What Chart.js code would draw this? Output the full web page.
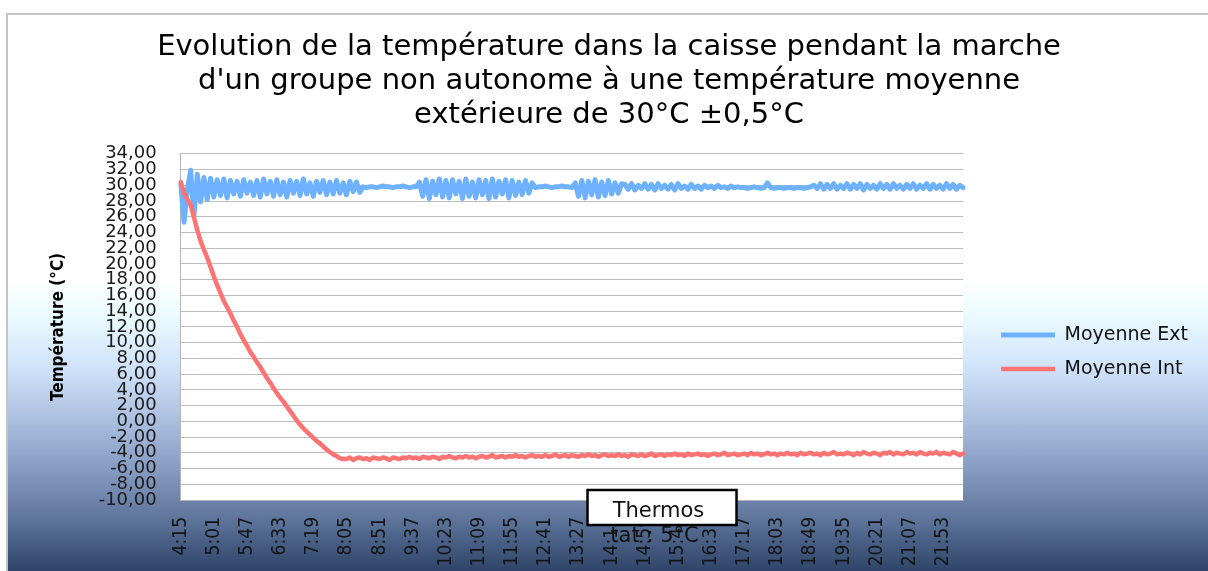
<!DOCTYPE html>
<html>
<head>
<meta charset="utf-8">
<script src="https://cdn.jsdelivr.net/npm/chart.js@4.4.1/dist/chart.umd.min.js"></script>
<style>
  html, body { margin: 0; padding: 0; background: #fff; overflow: hidden; }
  #frame {
    position: absolute; left: 6px; top: 13px; width: 1202px; height: 558px;
    border-left: 2px solid #c4c4c4; border-top: 2px solid #c4c4c4;
    background: linear-gradient(to bottom, #fff 0%, #fff 47%, #eafaff 54%, #cde0f8 64%, #a9bddd 73%, #8499c0 82%, #5a7198 91%, #2c4266 100%);
  }
  canvas { display: block; }
</style>
</head>
<body>
<div id="frame"><canvas id="temp-chart" width="1200" height="556"></canvas></div>
<script>
// libellés de l'axe horizontal (un tous les 10 relevés)
const tickLabels = ['4:15', '5:01', '5:47', '6:33', '7:19', '8:05', '8:51', '9:37', '10:23', '11:09', '11:55', '12:41',
    '13:27', '14:13', '14:59', '15:45', '16:31', '17:17', '18:03', '18:49', '19:35', '20:21', '21:07', '21:53'];
const pointsPerTick = 10;

const yTickLabels = ['-10,00', '-8,00', '-6,00', '-4,00', '-2,00', '0,00', '2,00', '4,00', '6,00', '8,00', '10,00', '12,00',
    '14,00', '16,00', '18,00', '20,00', '22,00', '24,00', '26,00', '28,00', '30,00', '32,00', '34,00'];

const titleLines = ['Evolution de la température dans la caisse pendant la marche',
    "d'un groupe non autonome à une température moyenne",
    'extérieure de 30°C ±0,5°C'];
const yTitle = 'Température (°C)';
const seriesNames = ['Moyenne Ext', 'Moyenne Int'];

const moyenneExt = [
    30.3, 25.3, 29.4, 31.9, 26.1, 31.4, 27.9, 31.0, 28.2,
    30.9, 28.5, 30.7, 28.7, 30.8, 28.4, 30.6, 28.9, 30.5, 28.6,
    30.7, 29.0, 30.4, 28.7, 30.6, 28.5, 30.8, 28.9, 30.5, 28.6,
    30.7, 28.8, 30.4, 28.5, 30.6, 29.0, 30.5, 28.7, 30.8, 28.9,
    30.3, 28.6, 30.5, 29.1, 30.6, 28.8, 30.4, 28.9, 30.6, 29.0,
    30.3, 28.8, 30.5, 29.2, 30.4, 29.1,
    29.8, 29.7, 29.8, 29.8, 29.7, 29.8, 29.9, 29.8, 29.8, 29.7, 29.8, 29.8, 29.9, 29.8, 29.7, 29.8, 29.8,
    30.4, 28.6, 30.7, 28.3, 30.5, 28.8, 30.8, 28.5, 30.6, 28.4,
    30.7, 28.9, 30.5, 28.3, 30.8, 28.6, 30.4, 28.4, 30.7, 28.8,
    30.6, 28.3, 30.8, 28.5, 30.5, 28.9, 30.7, 28.4, 30.6, 28.7,
    30.4, 28.8, 30.6, 29.0, 30.3,
    29.7, 29.8, 29.8, 29.9, 29.8, 29.7, 29.8, 29.8, 29.9, 29.8, 29.8, 29.7,
    30.3, 28.6, 30.6, 28.4, 30.5, 28.8, 30.7, 28.5, 30.4, 28.7, 30.6, 28.9, 30.3, 29.0, 30.2,
    30.1, 29.5, 30.2, 29.4, 30.0, 29.6, 30.2, 29.5, 30.1, 29.4,
    30.2, 29.6, 30.0, 29.5, 30.1, 29.4, 30.2, 29.6, 29.9, 29.5,
    30.1, 29.6, 29.9, 29.5, 30.0, 29.7, 29.9, 29.6, 30.0, 29.7,
    29.8, 29.6, 29.9, 29.7, 29.8, 29.7,
    29.7, 29.6, 29.7, 29.8, 29.7, 29.6, 29.7, 30.3, 29.7, 29.6, 29.7, 29.7, 29.6, 29.7, 29.7, 29.6, 29.7, 29.7, 29.6, 29.7, 29.8,
    30.0, 29.6, 30.2, 29.5, 30.1, 29.6, 30.2, 29.5, 30.0, 29.6,
    30.2, 29.5, 30.1, 29.6, 30.2, 29.4, 30.1, 29.6, 30.0, 29.5,
    30.2, 29.6, 30.1, 29.5, 30.2, 29.6, 30.0, 29.5, 30.1, 29.6,
    30.2, 29.5, 30.0, 29.6, 30.2, 29.5, 30.1, 29.6, 30.0, 29.5,
    30.2, 29.6, 30.1, 29.5, 30.0, 29.7
];

const moyenneInt = [
    30.4, 29.0, 28.2, 27.5, 25.9, 24.3, 22.9, 21.8, 20.8, 19.6,
    18.4, 17.3, 16.3, 15.3, 14.5, 13.7, 12.8, 12.0, 11.1, 10.3,
    9.6, 8.8, 8.2, 7.5, 6.9, 6.2, 5.5, 4.9, 4.2, 3.6,
    3.0, 2.5, 1.9, 1.3, 0.7, 0.1, -0.4, -0.9, -1.3, -1.7,
    -2.1, -2.5, -2.8, -3.2, -3.6, -3.9, -4.2, -4.4, -4.7, -4.8,
    -4.8, -4.6, -4.9, -4.7, -4.6, -4.8, -4.7, -4.9, -4.6, -4.7,
    -4.8, -4.6, -4.7, -4.9, -4.6, -4.7, -4.8, -4.6, -4.7, -4.5,
    -4.7, -4.6, -4.8, -4.5, -4.6, -4.7, -4.5, -4.6, -4.8, -4.5,
    -4.6, -4.4, -4.6, -4.7, -4.5, -4.6, -4.4, -4.6, -4.5, -4.7,
    -4.5, -4.4, -4.6, -4.5, -4.3, -4.6, -4.5, -4.4, -4.6, -4.4,
    -4.5, -4.3, -4.5, -4.4, -4.6, -4.4, -4.3, -4.5, -4.4, -4.5,
    -4.3, -4.5, -4.4, -4.2, -4.5, -4.4, -4.3, -4.5, -4.3, -4.4,
    -4.5, -4.3, -4.4, -4.2, -4.4, -4.3, -4.5, -4.3, -4.2, -4.4,
    -4.3, -4.4, -4.2, -4.4, -4.3, -4.5, -4.2, -4.3, -4.4, -4.2,
    -4.4, -4.3, -4.1, -4.4, -4.3, -4.2, -4.4, -4.2, -4.3, -4.1,
    -4.3, -4.2, -4.4, -4.1, -4.3, -4.2, -4.1, -4.3, -4.2, -4.4,
    -4.2, -4.1, -4.3, -4.2, -4.0, -4.3, -4.2, -4.1, -4.3, -4.2,
    -4.1, -4.3, -4.0, -4.2, -4.1, -4.3, -4.2, -4.0, -4.2, -4.1,
    -4.3, -4.1, -4.2, -4.0, -4.2, -4.1, -4.3, -4.0, -4.2, -4.1,
    -4.0, -4.2, -4.1, -4.3, -4.0, -4.2, -4.1, -3.9, -4.2, -4.1,
    -4.2, -4.0, -4.1, -4.3, -4.0, -4.2, -3.9, -4.1, -4.2, -4.0,
    -4.1, -4.3, -4.0, -4.1, -3.9, -4.2, -4.0, -4.1, -4.2, -3.9,
    -4.1, -4.0, -4.2, -3.9, -4.1, -4.2, -4.0, -4.1, -3.9, -4.2,
    -4.0, -4.1, -4.2, -3.9, -4.1, -4.3, -4.1
];

// une étiquette tous les 10 points, vide sinon
const labels = moyenneExt.map((v, i) => i % pointsPerTick === 0 ? (tickLabels[i / pointsPerTick] || '') : '');

const narrowFont = "'Liberation Sans Narrow', 'DejaVu Sans Condensed', 'Liberation Sans', sans-serif";

// fond blanc de la zone de tracé
const plotBackground = {
    id: 'plotBackground',
    beforeDraw(chart) {
        const { ctx, chartArea } = chart;
        ctx.save();
        ctx.fillStyle = '#ffffff';
        ctx.fillRect(chartArea.left, chartArea.top, chartArea.right - chartArea.left, chartArea.bottom - chartArea.top);
        ctx.restore();
    }
};

// étiquettes verticales (lecture de bas en haut) + zone de texte "Thermostat"
const extras = {
    id: 'extras',
    afterDraw(chart) {
        const { ctx, chartArea, scales } = chart;
        const x = scales.x;
        ctx.save();
        ctx.fillStyle = '#141414';
        ctx.font = '19px ' + narrowFont;
        ctx.textAlign = 'right';
        ctx.textBaseline = 'middle';
        tickLabels.forEach((t, k) => {
            const px = x.getPixelForValue(k * pointsPerTick);
            ctx.save();
            ctx.translate(px, chartArea.bottom + 17);
            ctx.rotate(-Math.PI / 2);
            ctx.fillText(t, 0, 0);
            ctx.restore();
        });

        const bx = chartArea.left + 0.52 * (chartArea.right - chartArea.left);
        const by = chartArea.bottom - 10;
        ctx.fillStyle = '#ffffff';
        ctx.fillRect(bx, by, 149, 35);
        ctx.strokeStyle = '#000000';
        ctx.lineWidth = 2.5;
        ctx.strokeRect(bx, by, 149, 35);
        ctx.fillStyle = '#111111';
        ctx.font = "21px 'DejaVu Sans', sans-serif";
        ctx.textAlign = 'center';
        ctx.textBaseline = 'alphabetic';
        ctx.fillText('Thermos', bx + 71, by + 27);
        ctx.fillText('tat : 5°C', bx + 67, by + 52);
        ctx.restore();
    }
};

const ctx = document.getElementById('temp-chart').getContext('2d');
new Chart(ctx, {
    type: 'line',
    data: {
        labels: labels,
        datasets: [{
            label: seriesNames[0],
            data: moyenneExt,
            borderColor: '#6db1ff',
            backgroundColor: '#6db1ff',
            borderWidth: 5,
            borderJoinStyle: 'round',
            borderCapStyle: 'round',
            pointRadius: 0,
            order: 2
        }, {
            label: seriesNames[1],
            data: moyenneInt,
            borderColor: '#ff7373',
            backgroundColor: '#ff7373',
            borderWidth: 4.5,
            borderJoinStyle: 'round',
            borderCapStyle: 'round',
            pointRadius: 0,
            order: 1
        }]
    },
    options: {
        responsive: false,
        animation: false,
        devicePixelRatio: 1,
        layout: { padding: { left: 12, right: 10, top: 6, bottom: 71 } },
        plugins: {
            tooltip: { enabled: false },
            title: {
                display: true,
                text: titleLines,
                color: '#000',
                font: { family: "'DejaVu Sans', sans-serif", size: 29, weight: 'normal', lineHeight: 1.17 },
                padding: { top: 10, bottom: 21 }
            },
            legend: {
                position: 'right',
                fullSize: false,
                maxWidth: 260,
                title: { display: true, text: ' ', font: { size: 10, lineHeight: 1 }, padding: { top: 20, bottom: 20 } },
                labels: {
                    usePointStyle: true,
                    pointStyle: 'line',
                    pointStyleWidth: 54,
                    boxHeight: 5,
                    padding: 15,
                    color: '#111',
                    font: { family: "'DejaVu Sans', sans-serif", size: 19 },
                    sort: (a, b) => a.datasetIndex - b.datasetIndex
                }
            }
        },
        scales: {
            x: {
                type: 'category',
                grid: { display: false, drawTicks: false },
                border: { display: true, color: '#b4b4b4' },
                ticks: { display: false, padding: 0 }
            },
            y: {
                min: -10,
                max: 34,
                grid: { color: '#bdbdbd', drawTicks: false },
                border: { display: true, color: '#b4b4b4' },
                ticks: {
                    stepSize: 2,
                    autoSkip: false,
                    padding: 24,
                    color: '#1a1a1a',
                    font: { family: "'DejaVu Sans', sans-serif", size: 18 },
                    callback: (v, i) => yTickLabels[i]
                },
                title: {
                    display: true,
                    text: yTitle,
                    color: '#000',
                    font: { family: narrowFont, size: 17, weight: 'bold' },
                    padding: { top: 28, bottom: 0 }
                },
                afterFit: s => { s.width = 160.7; }
            },
            spacer: {
                type: 'linear',
                position: 'right',
                grid: { display: false },
                border: { display: false },
                ticks: { display: false },
                afterFit: s => { s.width = 23; }
            }
        }
    },
    plugins: [plotBackground, extras]
});
</script>
</body>
</html>
